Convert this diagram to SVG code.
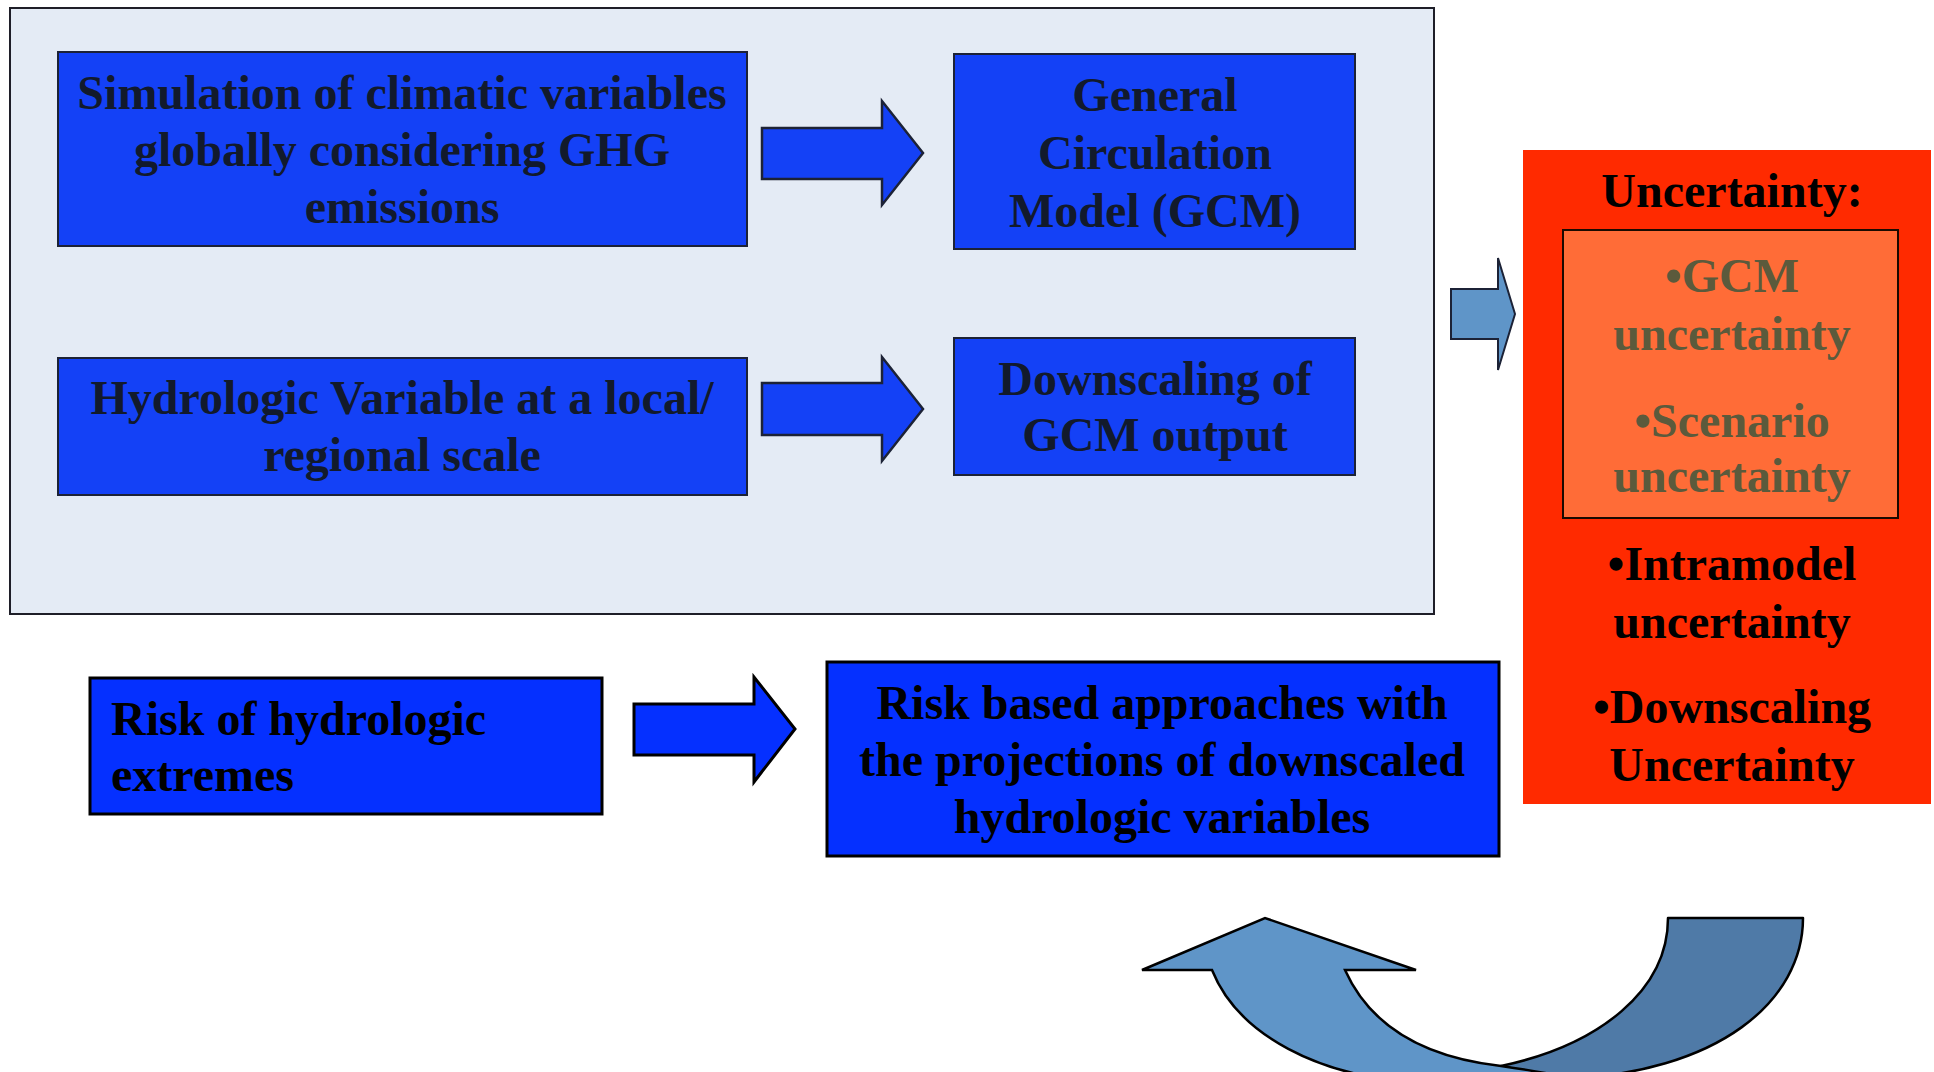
<svg xmlns="http://www.w3.org/2000/svg" width="1934" height="1072" viewBox="0 0 1934 1072">
<style>
.t{font-family:"Liberation Serif","Times New Roman",serif;font-weight:bold;font-size:48px;text-anchor:middle;fill:#121a2c}
.tb{fill:#000000}
.tl{text-anchor:start}
.ol{fill:#5b5a3c}
.box1{fill:#1441f6;stroke:#1c2236;stroke-width:2}
.box2{fill:#0530ff;stroke:#000000;stroke-width:3}
.arr1{fill:#1441f6;stroke:#1c2236;stroke-width:2.5;stroke-linejoin:miter}
.arr2{fill:#0530ff;stroke:#000000;stroke-width:3;stroke-linejoin:miter}
</style>
<rect width="1934" height="1072" fill="#ffffff"/>

<g id="panel">
<rect x="10" y="8" width="1424" height="606" fill="#e4ebf5" stroke="#1e1e28" stroke-width="2"/>
</g>

<g id="node-simulation">
<rect class="box1" x="58" y="52" width="689" height="194"/>
<text class="t" x="402" y="109">Simulation of climatic variables</text>
<text class="t" x="402" y="166">globally considering GHG</text>
<text class="t" x="402" y="223">emissions</text>
</g>

<g id="node-gcm">
<rect class="box1" x="954" y="54" width="401" height="195"/>
<text class="t" x="1155" y="111">General</text>
<text class="t" x="1155" y="169">Circulation</text>
<text class="t" x="1155" y="227">Model (GCM)</text>
</g>

<g id="node-hydrologic">
<rect class="box1" x="58" y="358" width="689" height="137"/>
<text class="t" x="402" y="414">Hydrologic Variable at a local/</text>
<text class="t" x="402" y="471">regional scale</text>
</g>

<g id="node-downscaling">
<rect class="box1" x="954" y="338" width="401" height="137"/>
<text class="t" x="1155" y="395">Downscaling of</text>
<text class="t" x="1155" y="451">GCM output</text>
</g>

<g id="node-uncertainty">
<rect x="1523" y="150" width="408" height="654" fill="#ff2a00"/>
<rect x="1563" y="230" width="335" height="288" fill="#ff6c37" stroke="#1a0a00" stroke-width="2"/>
<text class="t tb" x="1732" y="207">Uncertainty:</text>
<text class="t ol" x="1732" y="292">•GCM</text>
<text class="t ol" x="1732" y="350">uncertainty</text>
<text class="t ol" x="1732" y="437">•Scenario</text>
<text class="t ol" x="1732" y="492">uncertainty</text>
<text class="t tb" x="1732" y="580">•Intramodel</text>
<text class="t tb" x="1732" y="638">uncertainty</text>
<text class="t tb" x="1732" y="723">•Downscaling</text>
<text class="t tb" x="1732" y="781">Uncertainty</text>
</g>

<g id="node-risk">
<rect class="box2" x="90" y="678" width="512" height="136"/>
<text class="t tb tl" x="111" y="735">Risk of hydrologic</text>
<text class="t tb tl" x="111" y="791">extremes</text>
</g>

<g id="node-riskbased">
<rect class="box2" x="827" y="662" width="672" height="194"/>
<text class="t tb" x="1162" y="719">Risk based approaches with</text>
<text class="t tb" x="1162" y="776">the projections of downscaled</text>
<text class="t tb" x="1162" y="833">hydrologic variables</text>
</g>

<g id="connectors">
<polygon class="arr1" points="762,128 882,128 882,101 923,153 882,205 882,179 762,179"/>
<polygon class="arr1" points="762,383 882,383 882,357 923,409 882,461 882,435 762,435"/>
<polygon points="1451,289 1498,289 1498,258 1515,314 1498,370 1498,339 1451,339" fill="#5f95c8" stroke="#1c2236" stroke-width="2"/>
<polygon class="arr2" points="634,704 754,704 754,677 795,729 754,782 754,755 634,755"/>
<path d="M1668,918 L1803,918 C1803,1000 1720,1074 1560,1079 L1501,1066 C1600,1045 1668,990 1668,918 Z" fill="#4f7aa7" stroke="#000000" stroke-width="2.5" stroke-linejoin="round"/>
<path d="M1142,970 L1265,918 L1416,970 L1345,970 C1372,1030 1430,1058 1501,1066 C1535,1071 1565,1076 1590,1082 L1590,1095 L1420,1095 L1420,1082 C1320,1078 1238,1035 1212,970 Z" fill="#5f95c8" stroke="#000000" stroke-width="2.5" stroke-linejoin="miter"/>
</g>
</svg>
